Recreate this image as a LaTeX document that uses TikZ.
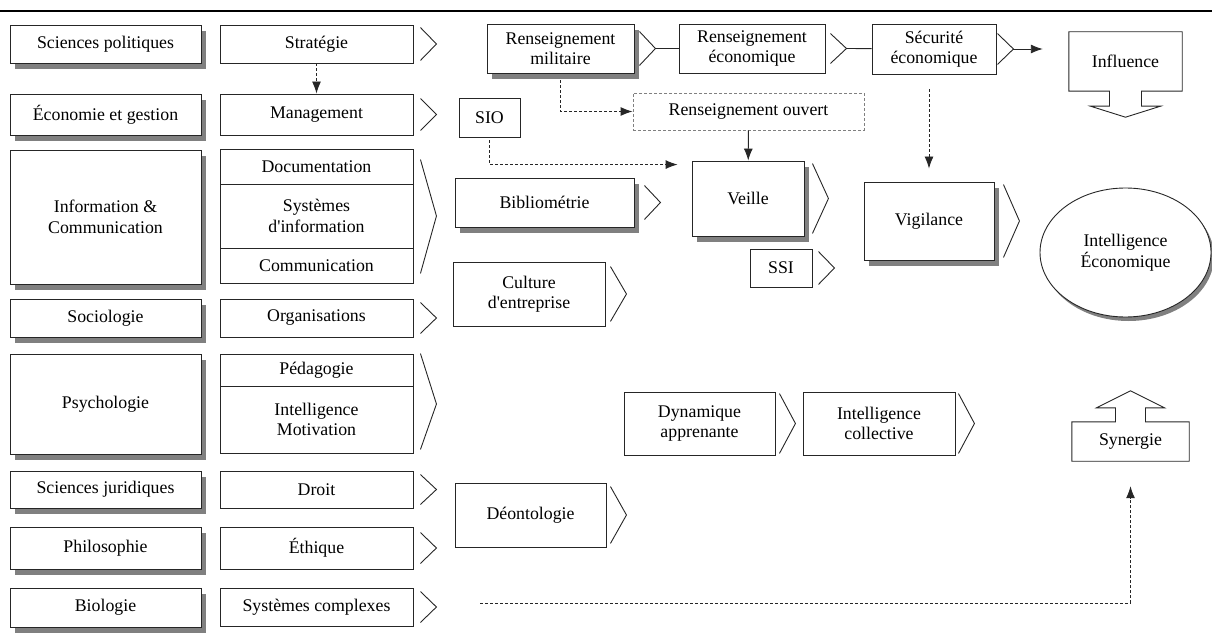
\documentclass[tikz,border=0pt]{standalone}
\usepackage{fontspec}
\setmainfont{Liberation Serif}
\usetikzlibrary{arrows.meta,backgrounds,shapes.geometric}

\begin{document}
\begin{tikzpicture}
  [x=1pt,y=-1pt,every node/.style={font=\fontsize{17.8}{20.5}\selectfont,align=center,inner sep=0pt}]
  \tikzstyle{box} = [draw=black!85,line width=0.9pt,fill=white]
  \tikzstyle{chev} = [draw=black!85,line width=0.9pt]
  \tikzstyle{arr} = [draw=black!85,line width=0.9pt,-{Latex[length=12pt,width=9pt]}]
  \tikzstyle{darr} = [arr,dash pattern=on 3pt off 2pt]
  \tikzstyle{shade} = [fill=black!50]
  \useasboundingbox (0,0) rectangle (1212,639);
  \draw[line width=1.2pt] (0,11) -- (1212,11);

  % disciplines
  \foreach \nm/\ycen/\hgt/\txt in {polit/44/38/Sciences politiques, eco/114.5/41/Économie et gestion,
      infocom/217/134/{Information \&\\Communication}, socio/318/38/Sociologie, psycho/404/100/Psychologie,
      jurid/489.5/37/Sciences juridiques, philo/548/42/Philosophie, bio/607.5/39/Biologie}
    \node[box,minimum width=191pt,minimum height=\hgt pt] (\nm) at (105.5,\ycen) {\txt};

  % domaines
  \foreach \nm/\ycen/\hgt/\txt in {strat/44/38/Stratégie, mgmt/114.5/41/Management,
      docu/166.5/35/Documentation, sysinfo/216/64/{Systèmes\\d\textquotesingle information}, comm/265.5/35/Communication,
      orga/318/38/Organisations, peda/370/32/Pédagogie, intmot/419.5/67/{Intelligence\\Motivation},
      droit/489.5/37/Droit, ethique/548/42/Éthique, syscx/607/38/Systèmes complexes}
    \node[box,minimum width=193pt,minimum height=\hgt pt] (\nm) at (316.5,\ycen) {\txt};

  % pratiques
  \node[box,minimum width=147pt,minimum height=49pt] (rmil) at (560.5,48.5) {Renseignement\\militaire};
  \node[box,minimum width=146pt,minimum height=49pt] (reco) at (752,48.5) {Renseignement\\économique};
  \node[box,minimum width=124pt,minimum height=50pt] (secu) at (934,49) {Sécurité\\économique};
  \node[minimum width=113pt,minimum height=59pt] (influence) at (1125.5,61.5) {Influence};
  \node[box,minimum width=61pt,minimum height=39pt] (sio) at (489.5,117.5) {SIO};
  \node[box,draw=black!50,dash pattern=on 3pt off 2pt,minimum width=231pt,minimum height=37pt] (rouv) at (748.5,111.5) {Renseignement ouvert};
  \node[box,minimum width=179pt,minimum height=49pt] (bibl) at (544.5,202.5) {Bibliométrie};
  \node[box,minimum width=112pt,minimum height=75pt] (veille) at (748,198.5) {Veille};
  \node[box,minimum width=62pt,minimum height=38pt] (ssi) at (781,268) {SSI};
  \node[box,minimum width=152pt,minimum height=64pt] (cult) at (529,294) {Culture\\d\textquotesingle entreprise};
  \node[box,minimum width=130pt,minimum height=78pt] (vigil) at (929,221) {Vigilance};
  \node[ellipse,box,minimum width=171pt,minimum height=129pt] (ie) at (1125.5,252.5) {Intelligence\\Économique};
  \node[box,minimum width=151pt,minimum height=63pt] (dyna) at (699.5,423.5) {Dynamique\\apprenante};
  \node[box,minimum width=152pt,minimum height=63pt] (intcol) at (879,423.5) {Intelligence\\collective};
  \node[minimum width=117pt,minimum height=39pt] (syn) at (1130.5,441.5) {Synergie};
  \node[box,minimum width=151pt,minimum height=64pt] (deonto) at (530.5,515) {Déontologie};

  % ombres
  \begin{scope}[on background layer]
    \foreach \nd in {polit,eco,infocom,socio,psycho,jurid,philo,bio,rmil,bibl,veille,vigil}
      \fill[shade] ([xshift=5pt,yshift=-6pt]\nd.south west) rectangle ([xshift=5pt,yshift=-6pt]\nd.north east);
    \fill[shade] ([xshift=3pt,yshift=-4pt]ie.center) ellipse [x radius=85.5pt,y radius=64.5pt];
  \end{scope}

  % chevrons
  \foreach \nd/\gap/\ins in {strat/7/3, mgmt/7/5, orga/7/4, droit/7/4, ethique/7/6, syscx/7/4,
      rmil/5/8, reco/5/10, secu/1/10, bibl/10/8, veille/8/3, vigil/9/3, ssi/6/3, cult/5/5,
      dyna/4/2, intcol/3/2, deonto/4/4}
  {
    \coordinate (\nd-tip) at ([xshift=\gap pt+16pt]\nd.east);
    \draw[chev] ([xshift=\gap pt,yshift=-\ins pt]\nd.north east) -- (\nd-tip)
      -- ([xshift=\gap pt,yshift=\ins pt]\nd.south east);
  }
  \draw[chev] ([xshift=7pt,yshift=-11pt]docu.north east) -- ([xshift=23pt]sysinfo.east)
    -- ([xshift=7pt,yshift=10pt]comm.south east);
  \draw[chev] ([xshift=7pt]peda.north east) -- ([xshift=23pt]peda.north east |- psycho.east)
    -- ([xshift=7pt,yshift=4pt]intmot.south east);

  % fleches blocs
  \draw[chev] (influence.south west) -- (influence.north west) -- (influence.north east) -- (influence.south east)
    -- ([xshift=16pt]influence.south) -- ([xshift=16pt,yshift=-15pt]influence.south)
    -- ([xshift=35pt,yshift=-15pt]influence.south) -- ([yshift=-26pt]influence.south)
    -- ([xshift=-35pt,yshift=-15pt]influence.south) -- ([xshift=-16pt,yshift=-15pt]influence.south)
    -- ([xshift=-16pt]influence.south) -- cycle;
  \draw[chev] (syn.north west) -- (syn.south west) -- (syn.south east) -- (syn.north east)
    -- ([xshift=15pt]syn.north) -- ([xshift=15pt,yshift=14pt]syn.north)
    -- ([xshift=34pt,yshift=14pt]syn.north) -- ([yshift=31pt]syn.north)
    -- ([xshift=-34pt,yshift=14pt]syn.north) -- ([xshift=-15pt,yshift=14pt]syn.north)
    -- ([xshift=-15pt]syn.north) -- cycle;

  % liens
  \draw[chev] (rmil-tip) -- (reco);
  \draw[chev] (reco-tip) -- (secu);
  \draw[arr] (secu-tip) -- ([xshift=-26pt]secu-tip -| influence.west);
  \draw[darr] (strat) -- (mgmt);
  \draw[darr,shorten <=7pt] (rmil.south) |- (rouv.west);
  \draw[darr,shorten <=3pt] (sio.south) |- ([xshift=-14pt,yshift=-4pt]veille.north west);
  \draw[arr] (rouv) -- (veille);
  \draw[darr,shorten <=15pt,shorten >=13pt] (secu.south -| vigil.north) -- (vigil.north);
  \draw[darr] ([xshift=44pt,yshift=4pt]syscx-tip) -| ([yshift=-25pt]syn.south);
\end{tikzpicture}
\end{document}
